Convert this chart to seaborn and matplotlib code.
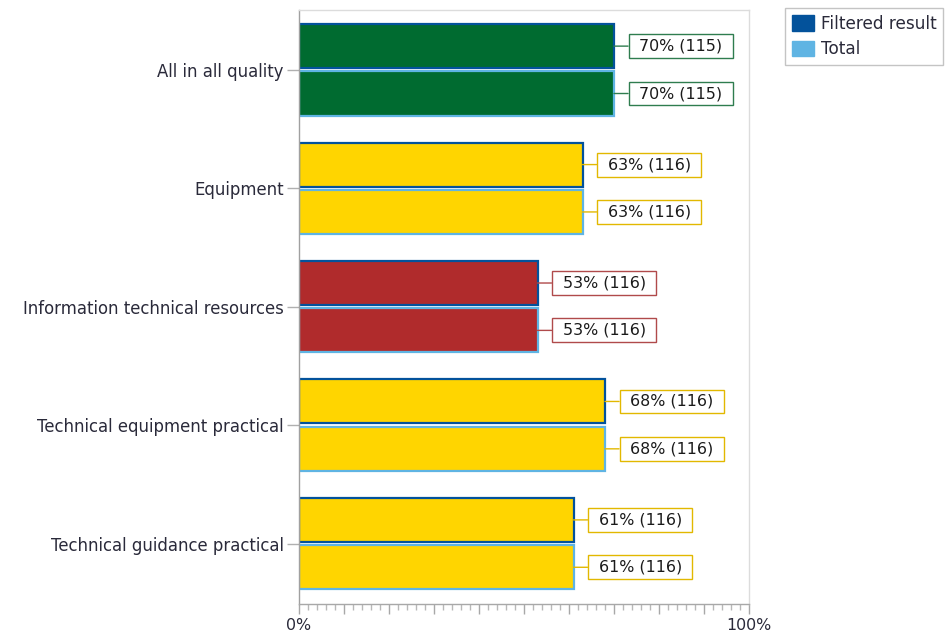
import matplotlib
matplotlib.use("Agg")
import matplotlib.pyplot as plt
from matplotlib.path import Path
from matplotlib.patches import Patch
from matplotlib.ticker import MultipleLocator
import seaborn as sns
import pandas as pd

# ---- data -------------------------------------------------------------
categories = [
    "All in all quality",
    "Equipment",
    "Information technical resources",
    "Technical equipment practical",
    "Technical guidance practical",
]
series = ["Filtered result", "Total"]
filtered_pct = [70, 63, 53, 68, 61]
filtered_n = [115, 116, 116, 116, 116]
total_pct = [70, 63, 53, 68, 61]
total_n = [115, 116, 116, 116, 116]
rating = ["good", "fair", "poor", "fair", "fair"]
x_tick_labels = {0: "0%", 100: "100%"}

# ---- styles -----------------------------------------------------------
fill_colors = {"good": "#006b30", "fair": "#ffd500", "poor": "#b02b2c"}
label_edges = {"good": "#2f7d4f", "fair": "#e2b800", "poor": "#b04a4b"}
series_edges = {"Filtered result": "#03529b", "Total": "#5fb4e3"}
text_dark = "#2a2a3a"

df = pd.DataFrame({
    "category": categories * 2,
    "series": [series[0]] * len(categories) + [series[1]] * len(categories),
    "pct": filtered_pct + total_pct,
    "n": filtered_n + total_n,
})

sns.set_style("white")
plt.rcParams["font.family"] = ["DejaVu Sans"]

W, H = 947, 634
fig = plt.figure(figsize=(W / 100, H / 100), dpi=100)
ax = fig.add_axes([299 / W, (H - 604) / H, 450 / W, 594 / H])

sns.barplot(data=df, y="category", x="pct", hue="series", orient="h",
            width=0.8, gap=0.07, legend=False, ax=ax,
            hue_order=series, order=categories, linewidth=1.6)


def label_box(x0, y0, width, height, mutation_size):
    """Rectangle with wider horizontal padding than vertical."""
    px = 0.66 * mutation_size
    py = 0.28 * mutation_size
    x1, y1 = x0 + width, y0 + height
    return Path([(x0 - px, y0 - py), (x1 + px, y0 - py), (x1 + px, y1 + py),
                 (x0 - px, y1 + py), (x0 - px, y0 - py)], closed=True)


for s, container in zip(series, ax.containers):
    sub = df[df["series"] == s].reset_index(drop=True)
    for i, bar in enumerate(container):
        r = rating[i]
        bar.set_facecolor(fill_colors[r])
        bar.set_edgecolor(series_edges[s])
        bar.set_linewidth(1.6)
        yc = bar.get_y() + bar.get_height() / 2
        val = sub.loc[i, "pct"]
        ax.annotate(f"{val}% ({sub.loc[i, 'n']})",
                    xy=(val, yc), xytext=(18, 0), textcoords="offset points",
                    ha="left", va="center", fontsize=11.4, color="#1a1a1a",
                    bbox=dict(boxstyle=label_box, facecolor="white",
                              edgecolor=label_edges[r], linewidth=1.0),
                    arrowprops=dict(arrowstyle="-", color=label_edges[r],
                                    linewidth=1.0, shrinkA=0, shrinkB=0),
                    annotation_clip=False)

# ---- axes -------------------------------------------------------------
ax.set_xlim(0, 100)
ax.set_ylim(len(categories) - 0.49, -0.505)
ax.set_xlabel("")
ax.set_ylabel("")

ax.xaxis.set_minor_locator(MultipleLocator(2))
ax.set_xticks(list(range(0, 101, 10)))
ax.set_xticklabels([x_tick_labels.get(v, "") for v in range(0, 101, 10)])
ax.tick_params(axis="x", which="major", length=7, width=1, color="#a8a8a8",
               labelsize=11.4, labelcolor=text_dark, pad=3, bottom=True)
ax.tick_params(axis="x", which="minor", length=4, width=1, color="#b8b8b8",
               bottom=True)
ax.tick_params(axis="y", length=9, width=1, color="#b0b0b0",
               labelsize=11.9, labelcolor=text_dark, pad=2, left=True)

for side, col in {"left": "#a0a0a0", "bottom": "#a8a8a8",
                  "top": "#dcdcdc", "right": "#dcdcdc"}.items():
    ax.spines[side].set_visible(True)
    ax.spines[side].set_color(col)
    ax.spines[side].set_linewidth(1.0)

# ---- legend -----------------------------------------------------------
handles = [Patch(facecolor=series_edges[s], edgecolor=series_edges[s]) for s in series]
fig.legend(handles, series, loc="upper left",
           bbox_to_anchor=(785 / W, 1 - 8 / H), bbox_transform=fig.transFigure,
           frameon=True, fancybox=False, edgecolor="#c4c4c4", framealpha=1,
           fontsize=12.2, labelcolor=text_dark, borderaxespad=0,
           handlelength=1.3, handleheight=1.0, handletextpad=0.4,
           labelspacing=0.42, borderpad=0.4)

fig.savefig("out.png", dpi=100)
